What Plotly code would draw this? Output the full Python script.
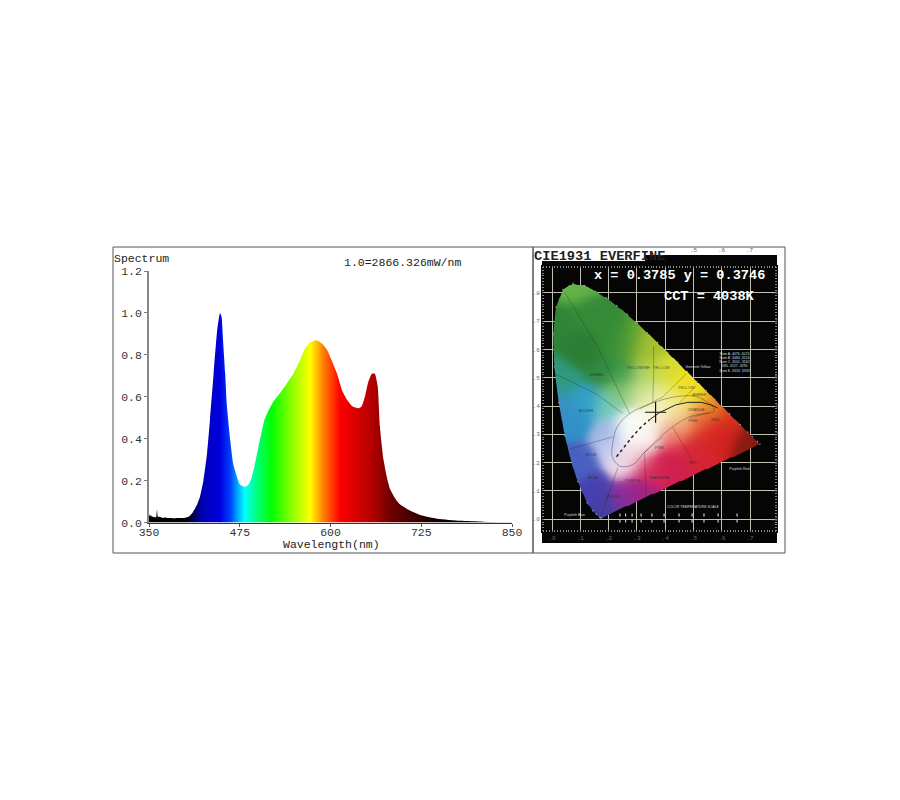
import numpy as np
import plotly.graph_objects as go

# ---------- Spectrum data ----------
wavelength = [350,351,352,353,354,355,356,357,358,359,360,361,362,363,365,368,372,376,380,385,390,395,400,404,407,410,413,416,420,425,430,434,
              439,444,447,448,450,452,455,457,462,466,471,475,482,487,491,496,500,505,509,514,521,531,540,549,558,565,572,581,
              588,595,602,609,616,623,630,639,643,648,652,657,661,665,668,673,678,682,689,696,710,726,747,779,810,850]
intensity = [.042,.030,.036,.028,.033,.026,.028,.024,.027,.024,.028,.062,.030,.026,.027,.022,.024,.021,.022,.020,.021,.021,.023,.027,.035,.047,.064,.083,.12,.20,.33,.49,
             .71,.92,.99,1.0,.98,.87,.71,.57,.39,.28,.22,.183,.17,.18,.21,.28,.35,.43,.49,.53,.575,.62,.665,.71,.775,.83,.86,.87,
             .855,.825,.77,.71,.63,.585,.555,.545,.555,.61,.67,.71,.71,.65,.46,.30,.21,.16,.115,.086,.056,.033,.018,.008,.004,.001]
y_ticks = [0,.2,.4,.6,.8,1.0,1.2]
x_ticks = [350,475,600,725,850]
grad_wl = [350,400,406,425,448,462,471,482,498,519,544,572,590,613,659,682,724,757,850]
grad_col = ['#000000','#000000','#000030','#0000b8','#0000e0','#0040ff','#00a0ff','#00ffff','#00ff80','#00ff00',
            '#80ff00','#ffff00','#ff8000','#ff0000','#b00000','#700000','#300000','#000000','#000000']

# ---------- Chromaticity data ----------
locus_x = [.1741,.1726,.1689,.1566,.1440,.1241,.0913,.0687,.0454,.0235,.0082,.0039,.0139,.0389,.0743,.1142,.1547,.1929,.2296,.2658,.3016,.3373,.3731,.4087,.4441,.4788,.5125,.5448,.5752,.6029,.6270,.6658,.6915,.7079,.7260,.7347]
locus_y = [.0050,.0048,.0069,.0177,.0297,.0578,.1327,.2007,.2950,.4127,.5384,.6548,.7502,.8120,.8338,.8262,.8059,.7816,.7543,.7243,.6923,.6589,.6245,.5896,.5547,.5202,.4866,.4544,.4242,.3965,.3725,.3340,.3083,.2920,.2740,.2653]
anchor_x = [.075,.03,.10,.20,.27,.34,.40,.47,.50,.57,.62,.70,.60,.50,.42,.30,.34,.26,.18,.15,.10,.08,.02,.04,.12,.20,
            .33,.28,.38,.45,.22,.26,.30,.42,.33,.25,.12,.18,.24,.20,.30,.36,.42,.52,.35,.30,.27,.40,.45,.55,.12,.22]
anchor_y = [.82,.70,.60,.65,.62,.60,.52,.47,.45,.40,.36,.27,.30,.25,.20,.10,.18,.07,.02,.10,.20,.35,.40,.50,.42,.40,
            .33,.27,.37,.38,.25,.20,.24,.30,.50,.50,.72,.52,.45,.30,.45,.44,.42,.35,.31,.30,.34,.35,.33,.30,.60,.62]
anchor_c = ['#64b44a','#2f8535','#2c7f35','#358a36','#62a232','#a8c030','#d8dc30','#eee020','#f0de28','#e89020','#d83020','#8a1a10',
            '#d02020','#d52535','#d0204e','#a52080','#d82858','#8030a0','#4040a0','#4840b0','#4a60c0','#3090c8','#3a90c0','#2f9a80',
            '#30a0c8','#70c8c0','#fbfbf6','#ffffff','#f6f6e4','#f0e8a0','#c8d0f0','#f4d8e8','#f0c0c8','#e85060','#a8d060','#3f9a48',
            '#358a38','#2f8a40','#88c878','#a0b4e4','#d8e498','#eaeea8','#f0e880','#e87040','#f8f0e8','#ffffff','#fafcf8','#f8f0b8','#f0a060','#d82820','#2c7c32','#349038']
grid_x = [0,.1,.2,.3,.4,.5,.6,.7]
grid_y = [0,.1,.2,.3,.4,.5,.6,.7,.8]
grid_x_txt = ['.0','.1','.2','.3','.4','.5','.6','.7']
grid_y_txt = ['.0','.1','.2','.3','.4','.5','.6','.7','.8']
planck_low_x = [.228,.25,.281,.313,.345]
planck_low_y = [.221,.25,.288,.324,.352]
planck_up_x = [.345,.38,.437,.48,.527,.565,.585]
planck_up_y = [.352,.377,.404,.413,.413,.403,.393]
oval_x = [.215,.229,.274,.356,.451,.521,.574,.486,.415,.327,.286,.239,.213,.215]
oval_y = [.27,.324,.373,.411,.435,.43,.384,.362,.318,.237,.193,.188,.221,.27]
div_lines = [([.359,.359,.356],[.612,.509,.411]),([.009,.156,.251],[.514,.443,.373]),([.045,.168,.274],[.802,.596,.373]),
             ([.062,.215],[.248,.291]),([.474,.392,.309],[.514,.433,.389]),([.509,.451],[.471,.411]),([.233,.168],[.183,.0]),
             ([.327,.333],[.237,.085]),([.427,.498],[.324,.204]),([.392,.327],[.291,.237]),([.556,.486],[.378,.357])]
name_x = [.156,.304,.386,.119,.474,.521,.509,.498,.578,.38,.498,.139,.145,.215,.286,.38]
name_y = [.509,.533,.533,.384,.462,.438,.387,.346,.351,.253,.199,.226,.145,.079,.134,.145]
name_t = ['GREEN','YELLOWISH','YELLOW','BLUISH','YELLOW','AMBER','ORANGE','PINK','RED','PINK','RED','BLUE','BLUE','VIOLET','PURPLE','MAGENTA']
white_x = [.645,.645,.645,.645,.645,.515,.662,.08,.498]
white_y = [.585,.57,.555,.54,.525,.536,.177,.014,.041]
white_t = ['Illum A .4476 .4074','Illum B .3484 .3516','Illum C .3101 .3162','D65 .3127 .3290','Illum E .3333 .3333',
           'Greenish Yellow','Purplish Red','Purplish Blue','COLOR TEMPERATURE SCALE']
scale_x = [.24,.26,.283,.315,.353,.396,.449,.495,.537,.587,.654]
mark_x, mark_y = [.366], [.378]

W, H = 900, 800
def dx(a, b): return [a / W, b / W]
def dy(top, bot): return [1 - bot / H, 1 - top / H]
MONO = 'Liberation Mono'

fig = go.Figure()

# spectrum
span = x_ticks[-1] - x_ticks[0]
fig.add_trace(go.Scatter(
    x=wavelength, y=intensity, mode='lines', line=dict(color='rgba(0,0,0,0)', width=0, shape='spline', smoothing=.5),
    fill='tozeroy', showlegend=False, hoverinfo='skip',
    fillgradient=dict(type='horizontal', start=x_ticks[0], stop=x_ticks[-1],
                      colorscale=[[(w - x_ticks[0]) / span, c] for w, c in zip(grad_wl, grad_col)]),
    xaxis='x', yaxis='y'))

# chromaticity background
X0, X1 = (542 - 552) / 283, (777 - 552) / 283
Y0, Y1 = (529 - 543) / 306, (529 - 255) / 306
nx, ny = 235, 288
ss = 3
xs = X0 + (np.arange(nx * ss) + .5) / (nx * ss) * (X1 - X0)
ys = Y0 + (np.arange(ny * ss) + .5) / (ny * ss) * (Y1 - Y0)
gx, gy = np.meshgrid(xs, ys)
px, py = np.array(locus_x), np.array(locus_y)
inside = np.zeros_like(gx, dtype=bool)
for i in range(len(px)):
    j = i - 1
    cond = (py[i] > gy) != (py[j] > gy)
    with np.errstate(divide='ignore', invalid='ignore'):
        xc = (px[j] - px[i]) * (gy - py[i]) / (py[j] - py[i]) + px[i]
    inside ^= cond & (gx < xc)
alpha = inside.reshape(ny, ss, nx, ss).mean(axis=(1, 3))
cx = xs[1::ss]; cy = ys[1::ss]
mx, my = np.meshgrid(cx, cy)
ax_, ay_ = np.array(anchor_x), np.array(anchor_y)
rgb = np.array([[int(c[i:i + 2], 16) for i in (1, 3, 5)] for c in anchor_c], float)
d2 = (mx[..., None] - ax_) ** 2 + (my[..., None] - ay_) ** 2
wts = np.exp(-d2 / (2 * .035 ** 2)) + 1e-9
img = (wts[..., None] * rgb).sum(axis=2) / wts.sum(axis=2, keepdims=True)
z = np.dstack([img, alpha])
fig.add_trace(go.Image(z=z.tolist(), colormodel='rgba', x0=cx[0], y0=cy[0],
                       dx=cx[1] - cx[0], dy=cy[1] - cy[0], xaxis='x2', yaxis='y2', hoverinfo='skip'))

# chromaticity linework
def add_line(lx, ly, **line):
    fig.add_trace(go.Scatter(x=lx, y=ly, mode='lines', line=line, xaxis='x2', yaxis='y2',
                             showlegend=False, hoverinfo='skip'))
for lx, ly in div_lines:
    add_line(lx, ly, color='rgba(40,40,40,.45)', width=.7)
add_line(oval_x, oval_y, color='rgba(40,40,40,.55)', width=.7, shape='spline')
add_line(planck_up_x, planck_up_y, color='#222', width=1)
add_line(planck_low_x, planck_low_y, color='#222', width=1.5, dash='dot')
for sx in scale_x:
    add_line([sx, sx], [.02, -.02], color='#ccc', width=1.2, dash='dot')
fig.add_trace(go.Scatter(x=mark_x, y=mark_y, mode='markers',
                         marker=dict(symbol='cross-thin', size=15, line=dict(color='#111', width=1.2)),
                         xaxis='x2', yaxis='y2', showlegend=False, hoverinfo='skip'))
fig.add_trace(go.Scatter(x=name_x, y=name_y, mode='text', text=name_t,
                         textfont=dict(family='Liberation Sans', size=4, color='rgba(40,40,40,.8)'),
                         xaxis='x2', yaxis='y2', showlegend=False, hoverinfo='skip'))
fig.add_trace(go.Scatter(x=white_x, y=white_y, mode='text', text=white_t,
                         textfont=dict(family='Liberation Sans', size=3.5, color='#ddd'),
                         xaxis='x2', yaxis='y2', showlegend=False, hoverinfo='skip'))
fig.add_trace(go.Scatter(x=locus_x, y=locus_y, mode='markers', marker=dict(size=1.4, color='#aaa'),
                         xaxis='x2', yaxis='y2', showlegend=False, hoverinfo='skip'))

# text
def note(px_, py_, text, size=11.5, color='#222', bold=False, anchor='left'):
    t = f'<b>{text}</b>' if bold else text
    fig.add_annotation(x=px_ / W, y=1 - py_ / H, xref='paper', yref='paper', text=t, showarrow=False,
                       xanchor=anchor, yanchor='middle', borderpad=0, align='left',
                       font=dict(family=MONO, size=size, color=color))

note(113, 258, 'Spectrum')
note(343, 262, '1.0=2866.326mW/nm')
note(282, 544, 'Wavelength(nm)')
note(533, 256, 'CIE1931 EVERFINE', size=13.7, color='#222', bold=True)
note(593, 275, 'x = 0.3785 y = 0.3746', size=13.6, color='#fff', bold=True)
note(663, 296, 'CCT = 4038K', size=13.6, color='#fff', bold=True)

# top / right tick labels of the chromaticity panel
for v, t in zip(grid_x[5:], grid_x_txt[5:]):
    fig.add_annotation(x=v, y=1 - 251 / H, xref='x2', yref='paper', text=t, showarrow=False, yanchor='middle',
                       font=dict(family=MONO, size=6, color='#666'))
for v, t in zip(grid_y, grid_y_txt):
    fig.add_annotation(x=781 / W, y=v, xref='paper', yref='y2', text=t, showarrow=False,
                       font=dict(family=MONO, size=6, color='#666'))

shapes = [
    dict(type='rect', xref='paper', yref='paper', x0=113 / W, x1=533 / W, y0=1 - 553 / H, y1=1 - 247 / H,
         line=dict(color='#555', width=1), layer='above'),
    dict(type='rect', xref='paper', yref='paper', x0=533 / W, x1=785 / W, y0=1 - 553 / H, y1=1 - 247 / H,
         line=dict(color='#555', width=1), layer='above'),
    dict(type='rect', xref='paper', yref='paper', x0=542 / W, x1=777 / W, y0=1 - 543 / H, y1=1 - 255 / H,
         fillcolor='#050505', line=dict(width=0), layer='below'),
    dict(type='rect', xref='paper', yref='paper', x0=534 / W, x1=645 / W, y0=1 - 261 / H, y1=1 - 248 / H,
         fillcolor='#fff', line=dict(width=0), layer='above'),
]
minor = dict(ticks='inside', tick0=0, dtick=.01, ticklen=2, tickcolor='#888', tickwidth=1, showgrid=False)
fig.update_layout(
    width=W, height=H, margin=dict(l=0, r=0, t=0, b=0, autoexpand=False), paper_bgcolor='white', plot_bgcolor='rgba(0,0,0,0)',
    showlegend=False, shapes=shapes,
    xaxis=dict(domain=dx(149, 512), range=[350, 850], tickmode='array', tickvals=x_ticks, ticks='outside', ticklen=3,
               tickcolor='#555', showgrid=False, zeroline=False, showline=True, linecolor='#333', linewidth=1,
               ticklabelstandoff=-4, tickfont=dict(family=MONO, size=11.5, color='#333'), anchor='y'),
    yaxis=dict(domain=dy(271, 522.5), range=[0, 1.2], tickmode='array', tickvals=y_ticks, ticktext=[f'{v:.1f}' for v in y_ticks],
               ticks='outside', ticklen=3, tickcolor='#777', showgrid=False, zeroline=False, showline=True,
               linecolor='#888', linewidth=1.5, tickfont=dict(family=MONO, size=11.5, color='#333'), anchor='x'),
    xaxis2=dict(domain=dx(542, 777), range=[X0, X1], tickmode='array', tickvals=grid_x, ticktext=grid_x_txt,
                ticks='', showgrid=True, gridcolor='#c0c0b0', gridwidth=1, zeroline=False, showline=True, linecolor='#050505',
                mirror='allticks', minor=minor, tickfont=dict(family=MONO, size=6, color='#666'), anchor='y2'),
    yaxis2=dict(domain=dy(255, 543), range=[Y0, Y1], tickmode='array', tickvals=grid_y, ticktext=grid_y_txt,
                ticks='', showgrid=True, gridcolor='#c0c0b0', gridwidth=1, zeroline=False, showline=True, linecolor='#050505',
                mirror='allticks', minor=minor, tickfont=dict(family=MONO, size=6, color='#666'), anchor='x2'),
)
fig.write_html('out.html', config=dict(displayModeBar=False), post_script="document.body.style.margin='0';")
